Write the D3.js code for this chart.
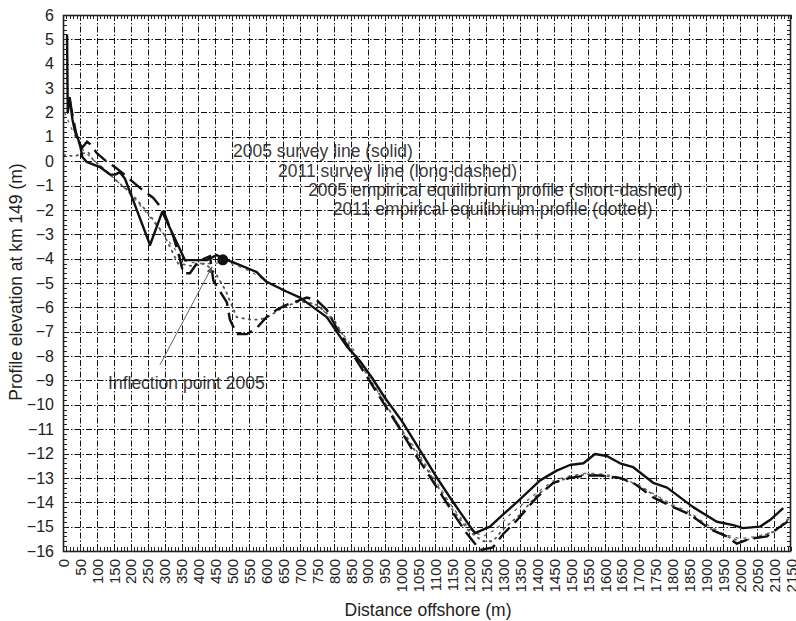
<!DOCTYPE html>
<html><head><meta charset="utf-8">
<script src="https://cdn.jsdelivr.net/npm/d3@7"></script>
<style>
html,body{margin:0;padding:0;background:#fff;}
svg{display:block;font-family:"Liberation Sans",Arial,sans-serif;}
</style></head>
<body><svg id="c" width="796" height="621"></svg>
<script>
// ---- data (distance offshore m, elevation m) ----
const survey2005 = [[12,5.2],[14,2.0],[20,2.6],[28,1.7],[35,1.25],[45,0.9],[52,0.55],[57,0.17],[70,-0.03],[109,-0.24],[139,-0.55],[154,-0.55],[168,-0.45],[183,-0.72],[207,-1.6],[257,-3.44],[293,-2.08],[345,-3.6],[360,-4.06],[425,-4.06],[454,-3.85],[472,-4.0],[503,-4.15],[572,-4.55],[601,-4.95],[660,-5.35],[700,-5.6],[779,-6.4],[838,-7.6],[877,-8.2],[913,-8.9],[950,-9.7],[1000,-10.65],[1054,-11.86],[1100,-12.9],[1150,-13.95],[1200,-14.95],[1217,-15.27],[1261,-15.0],[1300,-14.5],[1340,-14.0],[1409,-13.1],[1458,-12.7],[1497,-12.47],[1537,-12.4],[1571,-12.02],[1606,-12.1],[1645,-12.4],[1684,-12.56],[1743,-13.2],[1784,-13.4],[1861,-14.2],[1931,-14.8],[1980,-14.94],[2008,-15.06],[2058,-15.0],[2088,-14.73],[2127,-14.24]];
const survey2011 = [[20,2.5],[28,1.9],[40,1.05],[50,0.74],[56,0.54],[71,0.8],[80,0.7],[100,0.33],[130,-0.03],[159,-0.3],[177,-0.5],[236,-1.2],[266,-1.5],[296,-2.0],[326,-3.1],[345,-4.0],[355,-4.6],[375,-4.6],[400,-4.1],[434,-3.9],[444,-4.9],[484,-5.8],[493,-6.5],[513,-7.1],[543,-7.1],[572,-6.85],[601,-6.4],[631,-6.1],[660,-5.9],[720,-5.6],[749,-5.7],[779,-6.1],[810,-6.9],[850,-7.8],[900,-8.9],[950,-10.0],[1000,-11.1],[1034,-11.9],[1100,-13.3],[1150,-14.4],[1192,-15.27],[1232,-15.96],[1270,-15.85],[1300,-15.3],[1340,-14.75],[1399,-13.8],[1448,-13.2],[1497,-13.0],[1547,-12.9],[1586,-12.9],[1645,-13.0],[1684,-13.2],[1743,-13.8],[1802,-14.2],[1852,-14.5],[1911,-15.1],[1960,-15.4],[1990,-15.7],[2029,-15.5],[2079,-15.4],[2118,-15.0],[2150,-14.7]];
const empirical2005 = [[5,2.0],[20,1.5],[40,0.9],[60,0.45],[90,0.05],[118,-0.28],[162,-0.85],[189,-1.2],[240,-2.0],[296,-3.0],[330,-3.6],[360,-4.1],[400,-4.2],[450,-4.2],[480,-4.1],[550,-4.5],[631,-5.17],[700,-5.6],[760,-6.0],[800,-6.6],[848,-7.5],[900,-8.8],[950,-9.9],[1000,-11.0],[1050,-12.0],[1100,-13.1],[1150,-14.2],[1200,-15.1],[1240,-15.4],[1280,-15.1],[1320,-14.5],[1400,-13.6],[1450,-13.1],[1500,-12.9],[1550,-12.8],[1600,-12.85],[1650,-13.0],[1700,-13.3],[1750,-13.7],[1800,-14.1],[1850,-14.4],[1900,-14.9],[1950,-15.3],[2000,-15.5],[2050,-15.4],[2100,-15.2],[2150,-14.6]];
const empirical2011 = [[2,0.25],[35,0.2],[55,0.3],[74,0.38],[89,0.05],[118,-0.28],[162,-0.85],[200,-1.3],[250,-2.1],[296,-2.96],[340,-4.2],[380,-4.3],[420,-4.2],[450,-4.6],[480,-5.3],[513,-6.4],[550,-6.5],[582,-6.5],[611,-6.35],[650,-6.0],[700,-5.75],[750,-5.9],[800,-6.5],[850,-7.7],[900,-8.8],[950,-9.9],[1000,-11.05],[1050,-12.1],[1100,-13.2],[1150,-14.3],[1200,-15.2],[1240,-15.6],[1270,-15.6],[1300,-15.1],[1350,-14.5],[1400,-13.7],[1450,-13.2],[1500,-12.95],[1550,-12.85],[1600,-12.9],[1650,-13.05],[1700,-13.3],[1750,-13.75],[1800,-14.15],[1850,-14.5],[1900,-15.0],[1950,-15.35],[2000,-15.6],[2050,-15.45],[2100,-15.2],[2150,-14.6]];
const inflection2005 = [472,-4.05];
const arrowFrom = [286,-8.37], arrowTo = [440,-4.34];
const xTicks = d3.range(0,2151,50);
const yTicks = d3.range(-16,7,1);
const legendLabels = ["2005 survey line (solid)","2011 survey line (long-dashed)","2005 empirical equilibrium profile (short-dashed)","2011 empirical equilibrium profile (dotted)"];
const legendPos = [[502,0.17],[635,-0.65],[724,-1.43],[797,-2.21]]; // [x start (m), baseline elevation]
const annotationText = "Inflection point 2005";
const annotationPos = [133,-9.35];
const xTitle = "Distance offshore (m)";
const yTitle = "Profile elevation at km 149  (m)";

// ---- layout ----
const L=63,R=791,T=15,B=551;
const x=d3.scaleLinear().domain([0,2150]).range([L,R]);
const y=d3.scaleLinear().domain([-16,6]).range([B,T]);
const svg=d3.select("#c");
svg.append("rect").attr("width",796).attr("height",621).attr("fill","#fff");

// texts under grid
const tg=svg.append("g").attr("fill","#3a3a3a").attr("font-size",17.5);
legendLabels.forEach((t,i)=>{
  tg.append("text").attr("x",x(legendPos[i][0])).attr("y",y(legendPos[i][1])).text(t);
});
tg.append("text").attr("x",x(annotationPos[0])).attr("y",y(annotationPos[1])).text(annotationText);

// grid
const grid=svg.append("g").attr("stroke","#111").attr("stroke-width",1).attr("stroke-dasharray","6,2,1.5,2");
grid.selectAll("line.v").data(xTicks.filter(d=>d>0&&d<2150)).join("line")
  .attr("x1",d=>Math.round(x(d))+0.5).attr("x2",d=>Math.round(x(d))+0.5).attr("y1",T).attr("y2",B);
grid.selectAll("line.h").data(yTicks.filter(d=>d>-16&&d<6)).join("line")
  .attr("y1",d=>Math.round(y(d))+0.5).attr("y2",d=>Math.round(y(d))+0.5).attr("x1",L).attr("x2",R);

// minor ticks (inward)
const mt=svg.append("g").attr("stroke","#222").attr("stroke-width",1);
const xMinor=d3.range(0,2151,10), yMinor=d3.range(-16,6.001,0.2);
mt.selectAll("line.xt").data(xMinor).join("line").attr("x1",d=>Math.round(x(d))+0.5).attr("x2",d=>Math.round(x(d))+0.5).attr("y1",T).attr("y2",T+4);
mt.selectAll("line.xb").data(xMinor).join("line").attr("x1",d=>Math.round(x(d))+0.5).attr("x2",d=>Math.round(x(d))+0.5).attr("y1",B).attr("y2",B-4);
mt.selectAll("line.yl").data(yMinor).join("line").attr("y1",d=>Math.round(y(d))+0.5).attr("y2",d=>Math.round(y(d))+0.5).attr("x1",L).attr("x2",L+4);
mt.selectAll("line.yr").data(yMinor).join("line").attr("y1",d=>Math.round(y(d))+0.5).attr("y2",d=>Math.round(y(d))+0.5).attr("x1",R).attr("x2",R-4);

// lines
const line=d3.line().x(d=>x(d[0])).y(d=>y(d[1]));
svg.append("path").attr("d",line(empirical2011)).attr("fill","none").attr("stroke","#555").attr("stroke-width",1.8).attr("stroke-dasharray","1.5,5").attr("stroke-linecap","round");
svg.append("path").attr("d",line(empirical2005)).attr("fill","none").attr("stroke","#666").attr("stroke-width",1.3).attr("stroke-dasharray","3,5");
svg.append("path").attr("d",line(survey2011)).attr("fill","none").attr("stroke","#111").attr("stroke-width",2.4).attr("stroke-dasharray","16,7");
svg.append("path").attr("d",line(survey2005)).attr("fill","none").attr("stroke","#111").attr("stroke-width",2.4).attr("stroke-linejoin","round");

// inflection point + arrow
svg.append("circle").attr("cx",x(inflection2005[0])).attr("cy",y(inflection2005[1])).attr("r",5.5).attr("fill","#111");
svg.append("defs").append("marker").attr("id","ah").attr("viewBox","0 0 10 10").attr("refX",9).attr("refY",5)
  .attr("markerWidth",7).attr("markerHeight",7).attr("orient","auto")
  .append("path").attr("d","M0,1L10,5L0,9z").attr("fill","#555");
svg.append("line").attr("x1",x(arrowFrom[0])).attr("y1",y(arrowFrom[1])).attr("x2",x(arrowTo[0])).attr("y2",y(arrowTo[1]))
  .attr("stroke","#666").attr("stroke-width",1).attr("marker-end","url(#ah)");

// border
svg.append("rect").attr("x",L+0.5).attr("y",T+0.5).attr("width",R-L-1).attr("height",B-T).attr("fill","none").attr("stroke","#222").attr("stroke-width",1.6);

// axes labels via d3 axis generators
const ya=svg.append("g").attr("transform",`translate(${L-9},0)`).call(d3.axisLeft(y).tickValues(yTicks).tickSize(0).tickFormat(d3.format("d")));
ya.select(".domain").remove();
ya.selectAll("text").attr("font-size",16).attr("fill","#222").attr("font-family","Liberation Sans, Arial, sans-serif").attr("x",0);
const xa=svg.append("g").attr("transform",`translate(0,${B+8})`).call(d3.axisBottom(x).tickValues(xTicks).tickSize(0).tickFormat(d3.format("d")));
xa.select(".domain").remove();
xa.selectAll("text").attr("font-size",15).attr("fill","#222").attr("font-family","Liberation Sans, Arial, sans-serif")
  .attr("transform","rotate(-90)").attr("text-anchor","end").attr("x",0).attr("y",0).attr("dy","0.35em");

// titles
svg.append("text").attr("x",428).attr("y",616).attr("text-anchor","middle").attr("font-size",17.5).attr("fill","#222").text(xTitle);
svg.append("text").attr("transform","translate(22,282) rotate(-90)").attr("text-anchor","middle").attr("font-size",17.5).attr("fill","#222").text(yTitle);
</script></body></html>
